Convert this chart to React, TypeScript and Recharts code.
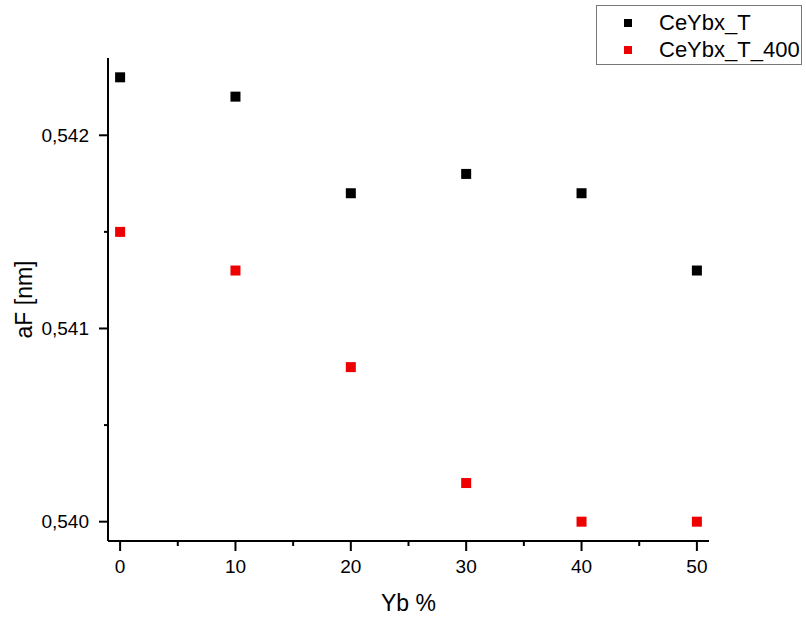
import React from 'react';
import { ScatterChart, Scatter, XAxis, YAxis } from 'recharts';

const ybPercent = [0, 10, 20, 30, 40, 50];
const ceYbxT = [0.5423, 0.5422, 0.5417, 0.5418, 0.5417, 0.5413];
const ceYbxT400 = [0.5415, 0.5413, 0.5408, 0.5402, 0.54, 0.54];
const seriesNames = ['CeYbx_T', 'CeYbx_T_400'];
const seriesColors = ['#000000', '#ee0000'];
const xTicks = [0, 5, 10, 15, 20, 25, 30, 35, 40, 45, 50];
const yTicks = [0.54, 0.5405, 0.541, 0.5415, 0.542];
const yMajor = [0.54, 0.541, 0.542];

const seriesA = ybPercent.map((x, i) => ({ x, y: ceYbxT[i] }));
const seriesB = ybPercent.map((x, i) => ({ x, y: ceYbxT400[i] }));

const FONT = '"Liberation Sans", Arial, sans-serif';
const TICK_SIZE = 9;
const TICK_MARGIN = 10;

const Square = (props: any) => {
  const { cx, cy, fill } = props;
  if (cx == null || cy == null) return null;
  return <rect x={cx - 5} y={cy - 5} width={10} height={10} fill={fill} />;
};

const XTick = (props: any) => {
  const { x, y, payload } = props;
  const axisY = y - TICK_SIZE - TICK_MARGIN;
  const v = payload.value;
  const major = v % 10 === 0;
  return (
    <g>
      <line x1={x} x2={x} y1={axisY} y2={axisY + (major ? 10 : 5)} stroke="#000" strokeWidth={2} />
      {major && (
        <text x={x} y={y} dy="0.71em" textAnchor="middle" fontSize={19} fontFamily={FONT} fill="#000">
          {v}
        </text>
      )}
    </g>
  );
};

const YTick = (props: any) => {
  const { x, y, payload } = props;
  const axisX = x + TICK_SIZE + TICK_MARGIN;
  const v = payload.value;
  const major = yMajor.some((m) => Math.abs(m - v) < 1e-9);
  return (
    <g>
      <line x1={axisX} x2={axisX - (major ? 9 : 4)} y1={y} y2={y} stroke="#000" strokeWidth={2} />
      {major && (
        <text x={x} y={y} dy="0.355em" textAnchor="end" fontSize={19} fontFamily={FONT} fill="#000">
          {v.toFixed(3).replace('.', ',')}
        </text>
      )}
    </g>
  );
};

const LegendBox = () => (
  <div
    style={{
      position: 'absolute',
      left: 596,
      top: 5,
      border: '1px solid #777',
      width: 206,
      height: 60,
      boxSizing: 'border-box',
      background: '#fff',
      fontFamily: FONT,
      fontSize: 22,
      paddingTop: 3,
    }}
  >
    {seriesNames.map((name, i) => (
      <div key={name} style={{ display: 'flex', alignItems: 'center', height: 27 }}>
        <span style={{ display: 'inline-block', width: 8, height: 8, background: seriesColors[i], marginLeft: 27, marginRight: 27 }} />
        <span>{name}</span>
      </div>
    ))}
  </div>
);

export default function App() {
  return (
    <div style={{ position: 'absolute', left: 0, top: 0, width: 806, height: 621, background: '#fff' }}>
      <ScatterChart width={806} height={621} margin={{ top: 58, right: 97, bottom: 0, left: 0 }}>
        <XAxis
          type="number"
          dataKey="x"
          domain={[-1.05, 51.05]}
          ticks={xTicks}
          interval={0}
          height={80}
          tickSize={TICK_SIZE}
          tickMargin={TICK_MARGIN}
          tickLine={false}
          axisLine={{ stroke: '#000', strokeWidth: 2 }}
          tick={<XTick />}
          label={(p: any) => {
            const vb = p.viewBox;
            return (
              <text x={vb.x + vb.width / 2} y={vb.y + 70} textAnchor="middle" fontSize={23} fontFamily={FONT} fill="#000">
                Yb %
              </text>
            );
          }}
        />
        <YAxis
          type="number"
          dataKey="y"
          domain={[0.5399, 0.5424]}
          ticks={yTicks}
          interval={0}
          width={108}
          tickSize={TICK_SIZE}
          tickMargin={TICK_MARGIN}
          tickLine={false}
          axisLine={{ stroke: '#000', strokeWidth: 2 }}
          tick={<YTick />}
          label={(p: any) => {
            const vb = p.viewBox;
            const cx = 24;
            const cy = vb.y + vb.height / 2;
            return (
              <text x={cx} y={cy} transform={`rotate(-90 ${cx} ${cy})`} textAnchor="middle" dominantBaseline="central" fontSize={23} fontFamily={FONT} fill="#000">
                aF [nm]
              </text>
            );
          }}
        />
        <Scatter name={seriesNames[0]} data={seriesA} fill={seriesColors[0]} shape={<Square />} isAnimationActive={false} />
        <Scatter name={seriesNames[1]} data={seriesB} fill={seriesColors[1]} shape={<Square />} isAnimationActive={false} />
      </ScatterChart>
      <LegendBox />
    </div>
  );
}
